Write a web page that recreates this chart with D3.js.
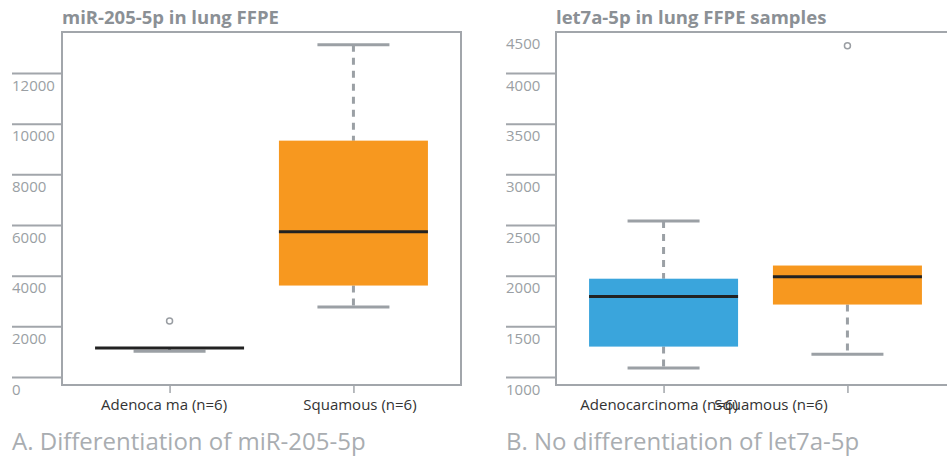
<!DOCTYPE html>
<html>
<head>
<meta charset="utf-8">
<script src="https://cdn.jsdelivr.net/npm/d3@7"></script>
<style>
  body { margin: 0; background: #fff; }
  text { font-family: "Open Sans", "Noto Sans", sans-serif; }
</style>
</head>
<body>
<script>
// data
var categoriesA = ["Adenoca ma (n=6)", "Squamous (n=6)"];
var lowerA   = [1020, 2760];
var q1A      = [1145, 3610];
var medianA  = [1145, 5730];
var q3A      = [1145, 9330];
var upperA   = [1145, 13120];
var outliersA = [[2210], []];
var ticksA   = [0, 2000, 4000, 6000, 8000, 10000, 12000];

var categoriesB = ["Adenocarcinoma (n=6)", "Squamous (n=6)"];
var lowerB   = [1090, 1225];
var q1B      = [1300, 1715];
var medianB  = [1795, 1990];
var q3B      = [1970, 2100];
var upperB   = [2540, 2100];
var outliersB = [[], [4270]];
var ticksB   = [1000, 1500, 2000, 2500, 3000, 3500, 4000, 4500];

var boxColors = ["#3aa5dc", "#f7981f"];
var greyLine = "#a2a6ab";
var whiskerColor = "#9ba0a5";
var medianColor = "#222222";

var totalWidth = 947, totalHeight = 456;
var boxWidth = 149, capWidth = 72;

var svg = d3.select("body").append("svg")
    .attr("width", totalWidth)
    .attr("height", totalHeight);

function drawPanel(cfg) {
    var left = cfg.left, top = 32, bottom = 385, right = cfg.left + 399;
    var g = svg.append("g");

    var x = d3.scalePoint()
        .domain(cfg.categories)
        .range([left, right])
        .padding(0.585);

    var y = d3.scaleLinear()
        .domain(cfg.yDomain)
        .range([377, 73]);

    // title
    g.append("text")
        .attr("x", left)
        .attr("y", 23.5)
        .attr("font-size", 18.5)
        .attr("font-weight", "bold")
        .attr("fill", "#8b9095")
        .text(cfg.title);

    // caption
    g.append("text")
        .attr("x", left - 50)
        .attr("y", 450)
        .attr("font-size", 24)
        .attr("fill", "#a9adb1")
        .text(cfg.caption);

    // y axis, tick lines run left of the frame, labels sit under them
    var yAxis = g.append("g")
        .attr("transform", "translate(" + left + ",0)")
        .call(d3.axisLeft(y).tickValues(cfg.ticks).tickSize(50).tickFormat(d3.format("d")));
    yAxis.select(".domain").remove();
    yAxis.selectAll(".tick line").attr("stroke", greyLine).attr("stroke-width", 2);
    yAxis.selectAll(".tick text")
        .attr("x", -50)
        .attr("dy", null)
        .attr("y", function (d) { return y(d) < top ? (top - y(d)) + 17 : 17; })
        .attr("text-anchor", "start")
        .attr("font-size", 15)
        .attr("font-family", null)
        .attr("fill", "#9a9fa4");
    yAxis.selectAll(".tick line")
        .attr("display", function (d) { return y(d) < top ? "none" : null; });

    // x axis
    var xAxis = g.append("g")
        .attr("transform", "translate(0," + bottom + ")")
        .call(d3.axisBottom(x).tickSize(8).tickPadding(6));
    xAxis.select(".domain").remove();
    xAxis.selectAll(".tick line").attr("stroke", greyLine).attr("stroke-width", 1.5);
    xAxis.selectAll(".tick text")
        .attr("font-size", 15)
        .attr("font-family", null)
        .attr("fill", "#333")
        .attr("dx", function (d, i) { return cfg.labelShift[i]; });

    // frame
    g.append("rect")
        .attr("x", left)
        .attr("y", top)
        .attr("width", right - left)
        .attr("height", bottom - top)
        .attr("fill", "none")
        .attr("stroke", greyLine)
        .attr("stroke-width", 2);

    var stats = cfg.categories.map(function (c, i) {
        return {key: c, lo: cfg.lower[i], q1: cfg.q1[i], med: cfg.median[i],
                q3: cfg.q3[i], hi: cfg.upper[i], out: cfg.outliers[i], color: boxColors[i]};
    });
    var withLo = stats.filter(function (d) { return d.lo < d.q1; });
    var withHi = stats.filter(function (d) { return d.hi > d.q3; });

    // whiskers (dashed) and caps, drawn under the boxes
    g.selectAll(".whiskerLo").data(withLo).enter().append("line")
        .attr("x1", function (d) { return x(d.key); })
        .attr("x2", function (d) { return x(d.key); })
        .attr("y1", function (d) { return y(d.q1); })
        .attr("y2", function (d) { return y(d.lo); })
        .attr("stroke", whiskerColor).attr("stroke-width", 3)
        .attr("stroke-dasharray", "7,6");
    g.selectAll(".whiskerHi").data(withHi).enter().append("line")
        .attr("x1", function (d) { return x(d.key); })
        .attr("x2", function (d) { return x(d.key); })
        .attr("y1", function (d) { return y(d.hi); })
        .attr("y2", function (d) { return y(d.q3); })
        .attr("stroke", whiskerColor).attr("stroke-width", 3)
        .attr("stroke-dasharray", "7,6");

    g.selectAll(".capLo").data(withLo).enter().append("line")
        .attr("x1", function (d) { return x(d.key) - capWidth / 2; })
        .attr("x2", function (d) { return x(d.key) + capWidth / 2; })
        .attr("y1", function (d) { return y(d.lo); })
        .attr("y2", function (d) { return y(d.lo); })
        .attr("stroke", whiskerColor).attr("stroke-width", 3);
    g.selectAll(".capHi").data(withHi).enter().append("line")
        .attr("x1", function (d) { return x(d.key) - capWidth / 2; })
        .attr("x2", function (d) { return x(d.key) + capWidth / 2; })
        .attr("y1", function (d) { return y(d.hi); })
        .attr("y2", function (d) { return y(d.hi); })
        .attr("stroke", whiskerColor).attr("stroke-width", 3);

    // boxes
    g.selectAll(".box").data(stats).enter().append("rect")
        .attr("x", function (d) { return x(d.key) - boxWidth / 2; })
        .attr("y", function (d) { return y(d.q3); })
        .attr("width", boxWidth)
        .attr("height", function (d) { return y(d.q1) - y(d.q3); })
        .attr("fill", function (d) { return d.color; });

    // medians
    g.selectAll(".median").data(stats).enter().append("line")
        .attr("x1", function (d) { return x(d.key) - boxWidth / 2; })
        .attr("x2", function (d) { return x(d.key) + boxWidth / 2; })
        .attr("y1", function (d) { return y(d.med); })
        .attr("y2", function (d) { return y(d.med); })
        .attr("stroke", medianColor).attr("stroke-width", 3);

    // outliers
    stats.forEach(function (d) {
        g.selectAll(null).data(d.out).enter().append("circle")
            .attr("cx", x(d.key))
            .attr("cy", function (v) { return y(v); })
            .attr("r", 3)
            .attr("fill", "none")
            .attr("stroke", "#9a9ea3")
            .attr("stroke-width", 1.5);
    });
}

drawPanel({
    left: 62, title: "miR-205-5p in lung FFPE", caption: "A. Differentiation of miR-205-5p",
    categories: categoriesA, lower: lowerA, q1: q1A, median: medianA, q3: q3A, upper: upperA,
    outliers: outliersA, ticks: ticksA, yDomain: [0, 12000], labelShift: [-6, 6]
});

drawPanel({
    left: 556, title: "let7a-5p in lung FFPE samples", caption: "B. No differentiation of let7a-5p",
    categories: categoriesB, lower: lowerB, q1: q1B, median: medianB, q3: q3B, upper: upperB,
    outliers: outliersB, ticks: ticksB, yDomain: [1000, 4000], labelShift: [-5, -77]
});
</script>
</body>
</html>
